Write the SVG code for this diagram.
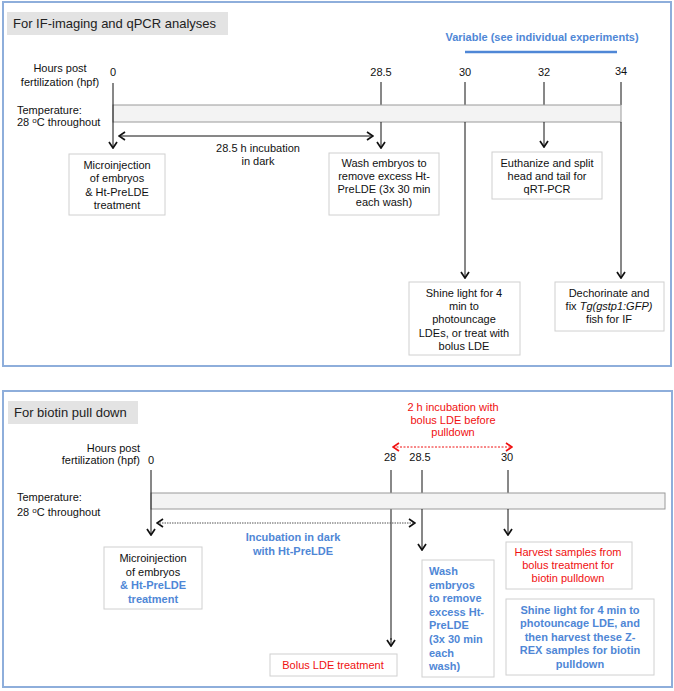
<svg xmlns="http://www.w3.org/2000/svg" width="674" height="691" viewBox="0 0 674 691">
<style>
text{font-family:"Liberation Sans",Arial,sans-serif;font-size:11px;fill:#111}
.c{text-anchor:middle}
.r{text-anchor:end}
.title{font-size:13px;fill:#222}
.blue{fill:#4f87d6;font-weight:bold}
.red{fill:#f01010}
.panel{fill:#fff;stroke:#8eaedb;stroke-width:2}
.tbox{fill:#e3e3e3}
.box{fill:#fff;stroke:#d0d0d0;stroke-width:1}
.bar{fill:#f3f3f3;stroke:#9a9a9a;stroke-width:1}
.ln{stroke:#111;stroke-width:1;fill:none}
.gl{stroke:#888;stroke-width:2;fill:none}
.arr{marker-end:url(#ah)}
.dbl{marker-start:url(#ah);marker-end:url(#ah)}
</style>
<defs>
<marker id="ah" viewBox="0 0 8 10" refX="7" refY="5" markerWidth="8" markerHeight="10" markerUnits="userSpaceOnUse" orient="auto-start-reverse">
<path d="M1,1 L7,5 L1,9" fill="none" stroke="#111" stroke-width="1.7"/>
</marker>
<marker id="ahr" viewBox="0 0 8 10" refX="7" refY="5" markerWidth="8" markerHeight="10" markerUnits="userSpaceOnUse" orient="auto-start-reverse">
<path d="M1,1 L7,5 L1,9" fill="none" stroke="#f01010" stroke-width="1.7"/>
</marker>
</defs>

<!-- Top panel -->
<g id="panel-top">
<rect class="panel" x="3" y="2" width="668" height="364"/>
<rect class="tbox" x="7" y="12" width="221" height="23"/>
<text class="title" x="13" y="28">For IF-imaging and qPCR analyses</text>
<text class="c" x="60" y="72">Hours post</text>
<text class="c" x="60" y="86">fertilization (hpf)</text>
<text x="17" y="114">Temperature:</text>
<text x="17" y="126">28 <tspan font-size="8" dy="-3">o</tspan><tspan dy="3">C throughout</tspan></text>
<text class="blue c" x="542" y="41">Variable (see individual experiments)</text>
<line x1="465" y1="52" x2="617" y2="52" stroke="#4f87d6" stroke-width="2.5"/>
<text class="c" x="113" y="76">0</text>
<text class="c" x="381" y="76">28.5</text>
<text class="c" x="465" y="76">30</text>
<text class="c" x="544" y="76">32</text>
<text class="c" x="621" y="75">34</text>
</g>

<g id="connectors-top">
<line class="ln" x1="381" y1="82" x2="381" y2="105"/>
<line class="ln" x1="465" y1="82" x2="465" y2="105"/>
<line class="ln" x1="544" y1="82" x2="544" y2="105"/>
<line class="ln" x1="621" y1="82" x2="621" y2="105"/>
<rect class="bar" x="113" y="105" width="508" height="17"/>
<line class="ln arr" x1="113" y1="83" x2="113" y2="148"/>
<line class="ln arr" x1="381" y1="122" x2="381" y2="148"/>
<line class="ln arr" x1="465" y1="122" x2="465" y2="278"/>
<line class="ln arr" x1="544" y1="122" x2="544" y2="147"/>
<line class="ln arr" x1="621" y1="122" x2="621" y2="278"/>
<line class="ln dbl" x1="119" y1="136" x2="373" y2="136"/>
</g>

<g id="label-incubation-top">
<text class="c" x="258" y="152">28.5 h incubation</text>
<text class="c" x="258" y="165">in dark</text>
</g>

<g id="node-microinjection-top">
<rect class="box" x="69" y="154" width="96" height="61"/>
<text class="c" x="117" y="169">Microinjection</text>
<text class="c" x="117" y="182">of embryos</text>
<text class="c" x="117" y="196">&amp; Ht-PreLDE</text>
<text class="c" x="117" y="209">treatment</text>
</g>

<g id="node-wash-top">
<rect class="box" x="329" y="153" width="110" height="62"/>
<text class="c" x="384" y="167">Wash embryos to</text>
<text class="c" x="384" y="180">remove excess Ht-</text>
<text class="c" x="384" y="193">PreLDE (3x 30 min</text>
<text class="c" x="384" y="206">each wash)</text>
</g>

<g id="node-euthanize">
<rect class="box" x="492" y="152" width="110" height="47"/>
<text class="c" x="547" y="167">Euthanize and split</text>
<text class="c" x="547" y="180">head and tail for</text>
<text class="c" x="547" y="193">qRT-PCR</text>
</g>

<g id="node-shine-top">
<rect class="box" x="409" y="282" width="111" height="73"/>
<text class="c" x="464" y="297">Shine light for 4</text>
<text class="c" x="464" y="310">min to</text>
<text class="c" x="464" y="323">photouncage</text>
<text class="c" x="464" y="337">LDEs, or treat with</text>
<text class="c" x="464" y="350">bolus LDE</text>
</g>

<g id="node-dechorinate">
<rect class="box" x="555" y="282" width="109" height="49"/>
<text class="c" x="609" y="297">Dechorinate and</text>
<text class="c" x="609" y="310">fix <tspan font-style="italic">Tg(gstp1:GFP)</tspan></text>
<text class="c" x="609" y="323">fish for IF</text>
</g>

<!-- Bottom panel -->
<g id="panel-bottom">
<rect class="panel" x="3" y="391" width="669" height="296"/>
<rect class="tbox" x="8" y="401" width="130" height="23"/>
<text class="title" x="14" y="417">For biotin pull down</text>
<text class="r" x="140" y="452">Hours post</text>
<text class="r" x="140" y="464">fertilization (hpf)</text>
<text x="17" y="501">Temperature:</text>
<text x="17" y="516">28 <tspan font-size="8" dy="-3">o</tspan><tspan dy="3">C throughout</tspan></text>
<text class="c" x="151" y="464">0</text>
<text class="c" x="390" y="461">28</text>
<text class="c" x="420" y="461">28.5</text>
<text class="c" x="507" y="461">30</text>
</g>

<g id="label-2h">
<text class="c red" x="453" y="411">2 h incubation with</text>
<text class="c red" x="453" y="424">bolus LDE before</text>
<text class="c red" x="453" y="436">pulldown</text>
</g>

<g id="connectors-bottom">
<line x1="393" y1="447" x2="512" y2="447" stroke="#f01010" stroke-width="1" stroke-dasharray="2 1.5" marker-start="url(#ahr)" marker-end="url(#ahr)"/>
<line class="gl" x1="391" y1="470" x2="391" y2="493"/>
<line class="ln" x1="422" y1="470" x2="422" y2="493"/>
<line class="ln" x1="508" y1="470" x2="508" y2="493"/>
<rect class="bar" x="151" y="493" width="514" height="16"/>
<line class="ln arr" x1="151" y1="470" x2="151" y2="535"/>
<line class="gl" x1="391" y1="509" x2="391" y2="640"/>
<line class="ln arr" x1="391" y1="638" x2="391" y2="646"/>
<line class="ln arr" x1="422" y1="509" x2="422" y2="550"/>
<line class="ln arr" x1="508" y1="509" x2="508" y2="535"/>
<line x1="157" y1="523" x2="415" y2="523" stroke="#555" stroke-width="1" stroke-dasharray="1.5 1" marker-start="url(#ah)" marker-end="url(#ah)"/>
</g>

<g id="label-incubation-bottom">
<text class="c blue" x="293" y="541">Incubation in dark</text>
<text class="c blue" x="293" y="555">with Ht-PreLDE</text>
</g>

<g id="node-microinjection-bottom">
<rect class="box" x="104" y="547" width="98" height="62"/>
<text class="c" x="153" y="562">Microinjection</text>
<text class="c" x="153" y="576">of embryos</text>
<text class="c blue" x="153" y="589">&amp; Ht-PreLDE</text>
<text class="c blue" x="153" y="603">treatment</text>
</g>

<g id="node-bolus">
<rect class="box" x="270" y="654" width="127" height="22"/>
<text class="c red" x="333" y="669">Bolus LDE treatment</text>
</g>

<g id="node-wash-bottom">
<rect class="box" x="422" y="560" width="72" height="117"/>
<text class="blue" x="429" y="575">Wash</text>
<text class="blue" x="429" y="589">embryos</text>
<text class="blue" x="429" y="602">to remove</text>
<text class="blue" x="429" y="616">excess Ht-</text>
<text class="blue" x="429" y="629">PreLDE</text>
<text class="blue" x="429" y="643">(3x 30 min</text>
<text class="blue" x="429" y="657">each</text>
<text class="blue" x="429" y="670">wash)</text>
</g>

<g id="node-harvest">
<rect class="box" x="506" y="542" width="126" height="47"/>
<text class="c red" x="568" y="556">Harvest samples from</text>
<text class="c red" x="568" y="569">bolus treatment for</text>
<text class="c red" x="568" y="582">biotin pulldown</text>
</g>

<g id="node-zrex">
<rect class="box" x="506" y="599" width="148" height="76"/>
<text class="c blue" x="580" y="614">Shine light for 4 min to</text>
<text class="c blue" x="580" y="627">photouncage LDE, and</text>
<text class="c blue" x="580" y="641">then harvest these Z-</text>
<text class="c blue" x="580" y="654">REX samples for biotin</text>
<text class="c blue" x="580" y="668">pulldown</text>
</g>
</svg>
